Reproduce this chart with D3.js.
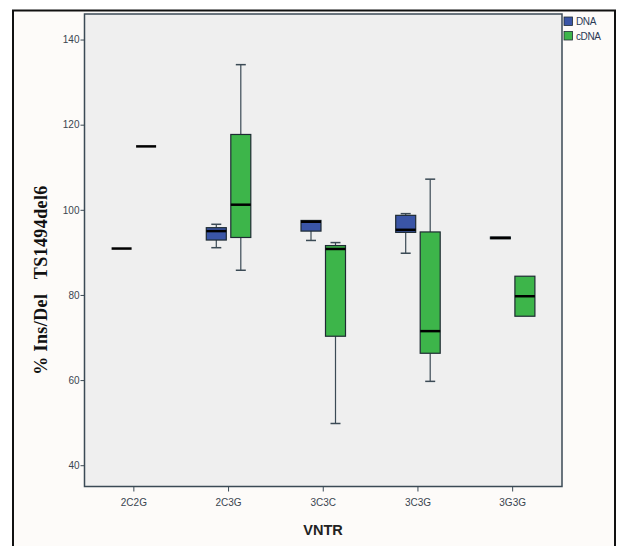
<!DOCTYPE html>
<html>
<head>
<meta charset="utf-8">
<script src="https://cdn.jsdelivr.net/npm/d3@7"></script>
<style>
body { margin: 0; background: #ffffff; }
svg { display: block; }
.tick text { font-family: "Liberation Sans", Arial, sans-serif; font-size: 10px; fill: #3a4550; }
</style>
</head>
<body>
<div id="svg_container"></div>
<script>
/* -----------------------
data
------------------------- */

var categories = ["2C2G", "2C3G", "3C3C", "3C3G", "3G3G"];
var groups = ["DNA", "cDNA"];
var yTicks = [40, 60, 80, 100, 120, 140];

var dna_min = [90.9, 91.1, 92.8, 89.8, 93.2];
var dna_q1  = [90.9, 92.9, 95.0, 94.7, 93.2];
var dna_med = [90.9, 95.0, 97.2, 95.3, 93.4];
var dna_q3  = [90.9, 95.8, 97.5, 98.7, 93.6];
var dna_max = [90.9, 96.6, 97.5, 99.1, 93.6];

var cdna_min = [114.9, 85.8, 49.8, 59.7, 75.0];
var cdna_q1  = [114.9, 93.5, 70.3, 66.3, 75.0];
var cdna_med = [114.9, 101.2, 90.8, 71.5, 79.7];
var cdna_q3  = [114.9, 117.7, 91.6, 94.8, 84.4];
var cdna_max = [114.9, 134.1, 92.3, 107.2, 84.4];

var colors = {"DNA": "#3a55a6", "cDNA": "#3db54a"};

/* -----------------------
main variables
------------------------- */

var width = 619;
var height = 546;
var plotBox = {left: 84.5, right: 562, top: 14, bottom: 486.5};
var box_w = 20;
var cap_w = 10;

var svg = d3.select("#svg_container")
	.append("svg")
	.attr("width", width)
	.attr("height", height);

// outer frame
svg.append("rect")
	.attr("x", 13).attr("y", 10.5)
	.attr("width", 602).attr("height", 545)
	.attr("fill", "#fdfbf9")
	.attr("stroke", "#111")
	.attr("stroke-width", 2);

// plot area
svg.append("rect")
	.attr("x", plotBox.left).attr("y", plotBox.top)
	.attr("width", plotBox.right - plotBox.left)
	.attr("height", plotBox.bottom - plotBox.top)
	.attr("fill", "#efefef")
	.attr("stroke", "#3b4a55")
	.attr("stroke-width", 1.5);

/* -----------------------
scales
------------------------- */

var y = d3.scaleLinear()
	.domain([35, 146])
	.range([plotBox.bottom, plotBox.top]);

var x = d3.scaleBand()
	.domain(categories)
	.range([86.5, 560]);

var xInner = d3.scaleBand()
	.domain(groups)
	.range([-24.5, 24.5]);

/* -----------------------
axes
------------------------- */

var yAxis = svg.append("g")
	.attr("transform", "translate(" + plotBox.left + ",0)")
	.call(d3.axisLeft(y).tickValues(yTicks).tickSize(4).tickPadding(1));
yAxis.select(".domain").remove();
yAxis.selectAll(".tick line").attr("stroke", "#3b4a55");

var xAxis = svg.append("g")
	.attr("transform", "translate(0," + plotBox.bottom + ")")
	.call(d3.axisBottom(x).tickSize(5).tickPadding(7));
xAxis.select(".domain").remove();
xAxis.selectAll(".tick line").attr("stroke", "#3b4a55");
xAxis.selectAll(".tick text").attr("font-size", "9.5px");

svg.append("text")
	.attr("x", 323)
	.attr("y", 535)
	.attr("text-anchor", "middle")
	.attr("font-family", "Liberation Sans, Arial, sans-serif")
	.attr("font-weight", "bold")
	.attr("font-size", "14.5px")
	.attr("fill", "#222")
	.text("VNTR");

svg.append("text")
	.attr("transform", "translate(47,280) rotate(-90)")
	.attr("text-anchor", "middle")
	.attr("font-family", "Liberation Serif, Times New Roman, serif")
	.attr("font-weight", "bold")
	.attr("font-size", "18px")
	.attr("letter-spacing", "0.4")
	.attr("fill", "#111")
	.attr("xml:space", "preserve")
	.text("% Ins/Del   TS1494del6");

/* -----------------------
boxes
------------------------- */

var boxes = [];
categories.forEach(function (c, i) {
	boxes.push({cat: c, group: "DNA", min: dna_min[i], q1: dna_q1[i], med: dna_med[i], q3: dna_q3[i], max: dna_max[i]});
	boxes.push({cat: c, group: "cDNA", min: cdna_min[i], q1: cdna_q1[i], med: cdna_med[i], q3: cdna_q3[i], max: cdna_max[i]});
});

var box = svg.selectAll(".box")
	.data(boxes)
	.enter()
	.append("g")
	.attr("class", "box")
	.attr("transform", function (d) {
		return "translate(" + (x(d.cat) + x.bandwidth() / 2 + xInner(d.group) + xInner.bandwidth() / 2) + ",0)";
	});

// whiskers
box.filter(function (d) { return d.max > d.q3; })
	.append("line")
	.attr("x1", 0).attr("x2", 0)
	.attr("y1", function (d) { return y(d.max); })
	.attr("y2", function (d) { return y(d.q3); })
	.attr("stroke", "#3b4a55").attr("stroke-width", 1.2);
box.filter(function (d) { return d.min < d.q1; })
	.append("line")
	.attr("x1", 0).attr("x2", 0)
	.attr("y1", function (d) { return y(d.q1); })
	.attr("y2", function (d) { return y(d.min); })
	.attr("stroke", "#3b4a55").attr("stroke-width", 1.2);
box.filter(function (d) { return d.max > d.q3; })
	.append("line")
	.attr("x1", -cap_w / 2).attr("x2", cap_w / 2)
	.attr("y1", function (d) { return y(d.max); })
	.attr("y2", function (d) { return y(d.max); })
	.attr("stroke", "#3b4a55").attr("stroke-width", 1.5);
box.filter(function (d) { return d.min < d.q1; })
	.append("line")
	.attr("x1", -cap_w / 2).attr("x2", cap_w / 2)
	.attr("y1", function (d) { return y(d.min); })
	.attr("y2", function (d) { return y(d.min); })
	.attr("stroke", "#3b4a55").attr("stroke-width", 1.5);

// box body
box.filter(function (d) { return d.q3 > d.q1; })
	.append("rect")
	.attr("x", -box_w / 2)
	.attr("y", function (d) { return y(d.q3); })
	.attr("width", box_w)
	.attr("height", function (d) { return y(d.q1) - y(d.q3); })
	.attr("fill", function (d) { return colors[d.group]; })
	.attr("stroke", "#1e2b33")
	.attr("stroke-width", 1.2);

// median
box.append("line")
	.attr("x1", -box_w / 2).attr("x2", box_w / 2)
	.attr("y1", function (d) { return y(d.med); })
	.attr("y2", function (d) { return y(d.med); })
	.attr("stroke", "#000")
	.attr("stroke-width", 2.5);

/* -----------------------
legend
------------------------- */

var legend = svg.selectAll(".legend")
	.data(groups)
	.enter()
	.append("g")
	.attr("class", "legend")
	.attr("transform", function (d, i) {
		return "translate(564," + (17 + i * 14.5) + ")";
	});

legend.append("rect")
	.attr("width", 8.5).attr("height", 8.5)
	.attr("fill", function (d) { return colors[d]; })
	.attr("stroke", "#1e2b33")
	.attr("stroke-width", 0.8);

legend.append("text")
	.attr("x", 12)
	.attr("y", 8)
	.attr("font-family", "Liberation Sans, Arial, sans-serif")
	.attr("font-size", "10px")
	.attr("letter-spacing", "-0.4")
	.attr("fill", "#2a3a55")
	.text(function (d) { return d; });
</script>
</body>
</html>
